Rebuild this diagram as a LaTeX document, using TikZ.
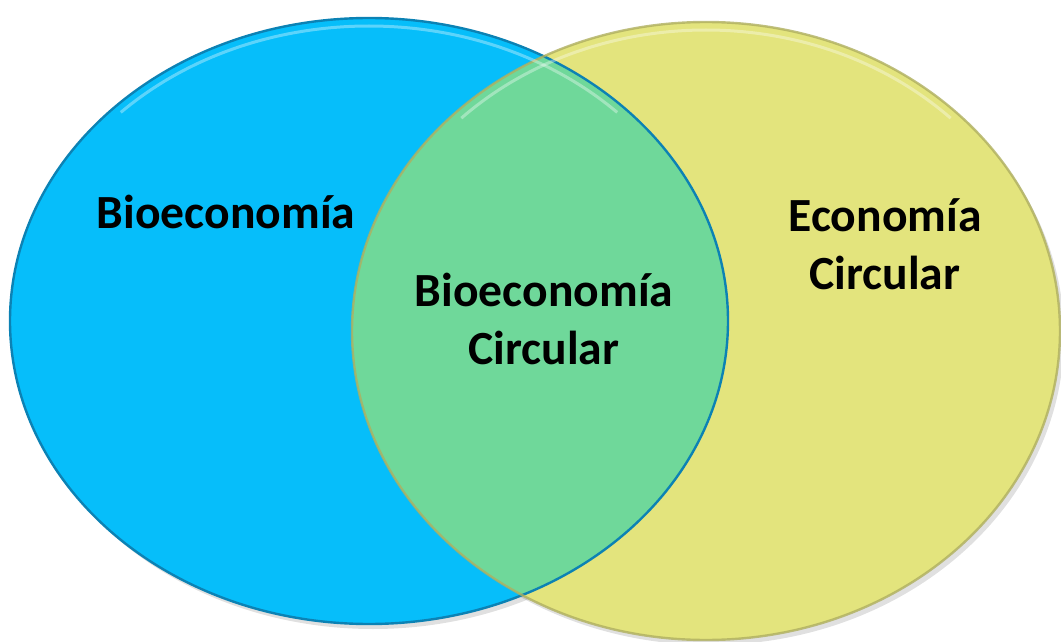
\documentclass[tikz,border=0pt]{standalone}
\usepackage{fontspec}
\setmainfont{Carlito}
\usepackage{tikz}
\definecolor{bioblue}{RGB}{6,190,250}
\definecolor{ecoyellow}{RGB}{227,228,125}
\definecolor{mixgreen}{RGB}{111,216,154}
\definecolor{blueedge}{RGB}{12,130,180}
\definecolor{yellowedge}{RGB}{175,175,95}
\begin{document}
\begin{tikzpicture}[x=0.5pt,y=-0.5pt,every node/.style={font=\bfseries\fontsize{23.8}{29}\selectfont,align=center,text=black},
		rim/.style={line width=1.2pt},
		shine/.style={white,opacity=0.35,line width=1.5pt}]
		\useasboundingbox (0,0) rectangle (1061,642);
		% shadows
		\fill[black,opacity=0.12] (373,326) ellipse [x radius=359, y radius=303];
		\fill[black,opacity=0.12] (710,336) ellipse [x radius=354, y radius=309];
		% circles
		\fill[bioblue] (369,321) ellipse [x radius=359, y radius=303];
		\fill[ecoyellow] (706,331) ellipse [x radius=354, y radius=309];
		\begin{scope}
			\clip (369,321) ellipse [x radius=359, y radius=303];
			\fill[mixgreen] (706,331) ellipse [x radius=354, y radius=309];
		\end{scope}
		\draw[rim,blueedge] (369,321) ellipse [x radius=359, y radius=303];
		\draw[rim,yellowedge,opacity=0.8] (706,331) ellipse [x radius=354, y radius=309];
		\draw[shine] (369,321) ++(225:351 and 295) arc [start angle=225, end angle=315, x radius=351, y radius=295];
		\draw[shine] (706,331) ++(225:346 and 301) arc [start angle=225, end angle=315, x radius=346, y radius=301];
		% labels
		\node (bio) at (226,212) {Bioeconomía};
		\node (biocirc) at (544,319) {Bioeconomía\\Circular};
		\node (eco) at (885,244) {Economía\\Circular};
	\end{tikzpicture}
\end{document}
